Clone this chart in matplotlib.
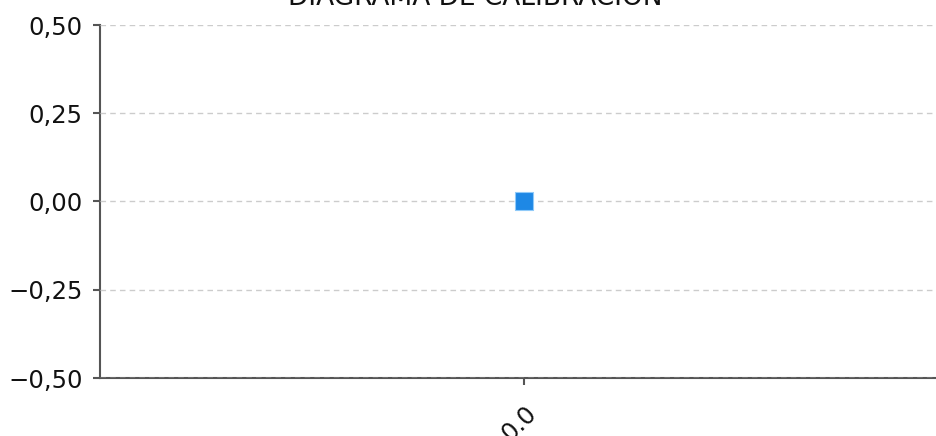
import matplotlib
matplotlib.use("Agg")
import matplotlib.pyplot as plt
from matplotlib.ticker import FuncFormatter

categories = ["0.0"]
values = [0.0]
title = "DIAGRAMA DE CALIBRACIÓN"
yticks = [-0.5, -0.25, 0.0, 0.25, 0.5]

plt.rcParams['font.family'] = ['DejaVu Sans']
W, H = 936, 436
fig = plt.figure(figsize=(W/100, H/100), dpi=100)
ax = fig.add_axes([100/W, 1-378/H, 848/W, 353/H])

x = list(range(len(categories)))
ax.scatter(x, values, marker='s', s=185, color='#1e88e5', edgecolors='#90caf9',
           linewidths=0.8, zorder=3)
ax.set_xlim(-1, 1)
ax.set_ylim(-0.5, 0.5)
ax.set_yticks(yticks)
ax.yaxis.set_major_formatter(FuncFormatter(lambda v, p: f"{v:.2f}".replace('.', ',').replace('-', '\u2212')))
ax.set_xticks(x)
ax.set_xticklabels(categories, rotation=45, ha='right', rotation_mode='anchor')
ax.tick_params(axis='both', labelsize=17.5, color='#555555', length=5, width=1.5,
               labelcolor='#111111')
ax.tick_params(axis='y', pad=7.5)
ax.tick_params(axis='x', pad=12)
ax.grid(axis='y', linestyle=(0, (4, 3)), color='#cccccc', linewidth=1)
ax.set_axisbelow(True)
for s in ['top', 'right']:
    ax.spines[s].set_visible(False)
for s in ['left', 'bottom']:
    ax.spines[s].set_color('#555555')
    ax.spines[s].set_linewidth(1.5)
    ax.spines[s].set_zorder(0.4)
fig.text(475/W, 1-(-2)/H, title, ha='center', va='center', fontsize=19, color='#111111')
fig.savefig("out.png", dpi=100)
